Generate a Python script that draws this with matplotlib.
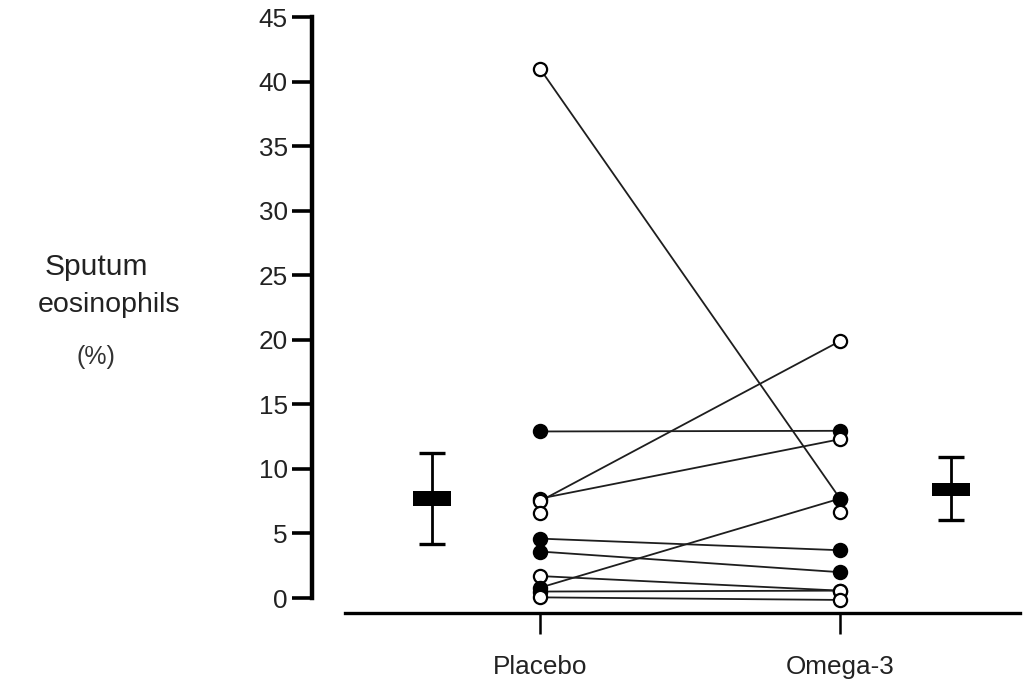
import matplotlib
matplotlib.use("Agg")
import matplotlib.pyplot as plt
import numpy as np

plt.rcParams['font.family'] = ['Liberation Sans', 'DejaVu Sans']

groups = ['Placebo', 'Omega-3']
yticks = [0, 5, 10, 15, 20, 25, 30, 35, 40, 45]

# paired subjects: placebo value, omega-3 value, filled marker at each end
placebo = [41.0, 12.9, 7.7, 7.5, 4.6, 3.6, 1.7, 0.8, 0.5, 0.05]
omega3 = [7.7, 12.95, 12.3, 19.9, 3.7, 2.0, 0.57, 7.7, 0.57, -0.15]
placebo_filled = [False, True, False, False, True, True, False, True, True, False]
omega3_filled = [True, True, False, False, True, True, False, True, False, False]

# single points with no partner line
lone_placebo = [6.6]
lone_omega3 = [6.65]

# group summaries (mean, box half height, whisker low, whisker high)
summary_mean = [7.7, 8.4]
summary_half = [0.55, 0.5]
summary_low = [4.2, 6.05]
summary_high = [11.25, 10.95]
summary_x = [-0.36, 1.37]

fig = plt.figure(figsize=(10.23, 6.79), dpi=100)
ax = fig.add_axes([312 / 1023, 1 - 613 / 679, 1 - 312 / 1023, (613 - 10) / 679])

line_col = '#1e1e1e'
for p, o in zip(placebo, omega3):
    ax.plot([0, 1], [p, o], color=line_col, lw=1.3, zorder=2)

for p, o, pf, of in zip(placebo, omega3, placebo_filled, omega3_filled):
    ax.plot(0, p, 'o', ms=9.5, mew=1.6, mec='black',
            mfc='black' if pf else 'white', zorder=3)
    ax.plot(1, o, 'o', ms=9.5, mew=1.6, mec='black',
            mfc='black' if of else 'white', zorder=3)
for v in lone_placebo:
    ax.plot(0, v, 'o', ms=9.5, mew=1.6, mec='black', mfc='white', zorder=3)
for v in lone_omega3:
    ax.plot(1, v, 'o', ms=9.5, mew=1.6, mec='black', mfc='white', zorder=3)

# summary whiskers and boxes
for x, m, h, lo, hi in zip(summary_x, summary_mean, summary_half, summary_low, summary_high):
    ax.errorbar(x, m, yerr=[[m - lo], [hi - m]], fmt='none', ecolor='black',
                elinewidth=2.0, capsize=9.7, capthick=2.4, zorder=2)
    ax.bar(x, 2 * h, bottom=m - h, width=0.127, color='black', zorder=3)

ax.set_xlim(-0.76, 1.61)
ax.set_ylim((598 - 613) / 12.91, (598 - 10) / 12.91)

for s in ['top', 'right']:
    ax.spines[s].set_visible(False)
ax.spines['left'].set_bounds(0, 45)
ax.spines['left'].set_linewidth(3.2)
ax.spines['left'].set_capstyle('projecting')
ax.spines['bottom'].set_bounds(-0.65, 1.6)
ax.spines['bottom'].set_linewidth(2.4)

ax.set_yticks(yticks)
ax.set_xticks([0, 1])
ax.set_xticklabels(groups)
ax.tick_params(axis='y', length=14.5, width=2.6, labelsize=18.8,
               labelcolor='#222222', pad=3)
ax.tick_params(axis='x', length=15, width=1.8, labelsize=18.8,
               labelcolor='#222222', pad=15)

fig.text(96 / 1023, 1 - 267 / 679, 'Sputum', ha='center', va='center',
         fontsize=21.5, color='#222222')
fig.text(109 / 1023, 1 - 305 / 679, 'eosinophils', ha='center', va='center',
         fontsize=20.5, color='#222222')
fig.text(96 / 1023, 1 - 357 / 679, '(%)', ha='center', va='center',
         fontsize=18, color='#333333')

fig.savefig('out.png', dpi=100)
